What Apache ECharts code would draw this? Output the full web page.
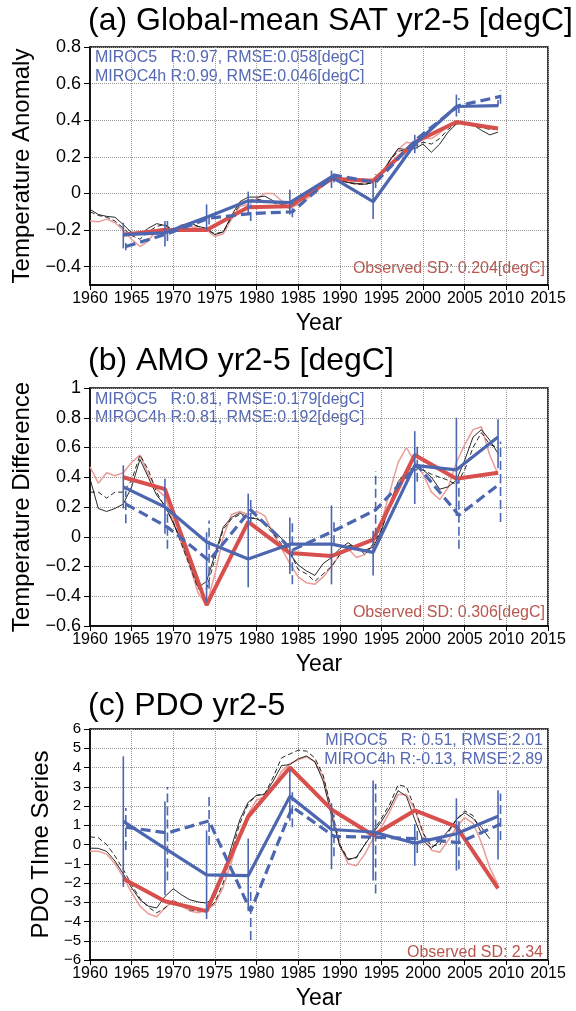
<!DOCTYPE html>
<html>
<head>
<meta charset="utf-8">
<script src="https://cdn.jsdelivr.net/npm/echarts@6/dist/echarts.min.js"></script>
<style>
html, body { margin: 0; padding: 0; background: #fff; }
#chart { width: 576px; height: 1011px; }
</style>
</head>
<body>
<div id="chart"></div>
<script>
// yearly points of the thin observed curves
var thinYears = [1960,1961,1962,1963,1964,1965,1966,1967,1968,1969,
  1970,1971,1972,1973,1974,1975,1976,1977,1978,1979,
  1980,1981,1982,1983,1984,1985,1986,1987,1988,1989,
  1990,1991,1992,1993,1994,1995,1996,1997,1998,1999,
  2000,2001,2002,2003,2004,2005,2006,2007,2008,2009];
// hindcast centres (MIROC4h drawn slightly to the right)
var hcYears = [1964,1969,1974,1979,1984,1989,1994,1999,2004,2009];
var hcYears4h = [1964.3,1969.3,1974.3,1979.3,1984.3,1989.3,1994.3,1999.3,2004.3,2009.3];

// (a) global-mean SAT
var satPink = [-0.15,-0.155,-0.14,-0.16,-0.2,-0.25,-0.29,-0.26,-0.2,-0.19,
  -0.2,-0.17,-0.18,-0.19,-0.2,-0.235,-0.22,-0.14,-0.07,-0.06,
  -0.03,0.0,0.0,-0.04,-0.08,-0.06,-0.03,0.0,0.05,0.08,
  0.08,0.06,0.05,0.06,0.07,0.11,0.18,0.24,0.28,0.27,
  0.3,0.3,0.33,0.37,0.39,0.385,0.37,0.36,0.36,0.355];
var satBlack = [-0.087,-0.115,-0.125,-0.13,-0.17,-0.215,-0.225,-0.19,-0.165,-0.175,
  -0.2,-0.175,-0.16,-0.18,-0.19,-0.225,-0.21,-0.12,-0.045,-0.02,
  -0.02,-0.015,-0.04,-0.06,-0.07,-0.04,-0.005,0.015,0.05,0.08,
  0.07,0.06,0.055,0.05,0.06,0.105,0.18,0.245,0.24,0.245,
  0.27,0.225,0.27,0.335,0.38,0.385,0.375,0.345,0.32,0.335];
var satDash = [-0.1,-0.12,-0.13,-0.15,-0.19,-0.23,-0.25,-0.21,-0.18,-0.17,
  -0.2,-0.18,-0.17,-0.18,-0.2,-0.22,-0.21,-0.13,-0.06,-0.04,
  -0.03,-0.04,-0.05,-0.07,-0.08,-0.05,-0.02,0.01,0.05,0.07,
  0.07,0.06,0.05,0.05,0.06,0.1,0.18,0.23,0.24,0.26,
  0.28,0.27,0.3,0.35,0.38,0.38,0.37,0.36,0.35,0.35];
var satObs = [-0.225,-0.2,-0.2,-0.075,-0.07,0.08,0.07,0.28,0.39,0.355];
var satM5 = [-0.225,-0.215,-0.13,-0.04,-0.05,0.09,-0.045,0.27,0.475,0.48];
var satM5Lo = [-0.3,-0.29,-0.2,-0.115,-0.115,0.03,-0.14,0.22,0.42,0.475];
var satM5Hi = [-0.16,-0.15,-0.06,0.01,0.02,0.125,0.06,0.32,0.54,0.51];
var satM4 = [-0.29,-0.22,-0.135,-0.11,-0.1,0.1,0.06,0.3,0.48,0.53];
var satM4Lo = [-0.31,-0.26,-0.17,-0.15,-0.13,0.06,0.03,0.245,0.44,0.49];
var satM4Hi = [-0.27,-0.15,-0.1,-0.06,-0.04,0.115,0.105,0.31,0.52,0.565];
var satTicks = [-0.4,-0.2,0,0.2,0.4,0.6,0.8];

// (b) AMO
var amoPink = [0.47,0.36,0.43,0.41,0.43,0.5,0.55,0.42,0.32,0.27,
  0.1,-0.05,-0.2,-0.38,-0.46,-0.25,0.0,0.15,0.17,0.15,
  0.17,0.14,0.02,-0.08,-0.18,-0.27,-0.31,-0.32,-0.27,-0.2,
  -0.12,-0.08,-0.14,-0.12,-0.05,0.1,0.3,0.5,0.6,0.5,
  0.42,0.3,0.25,0.33,0.5,0.62,0.72,0.74,0.55,0.42];
var amoBlack = [0.39,0.19,0.17,0.19,0.22,0.335,0.52,0.4,0.28,0.21,
  0.09,-0.025,-0.18,-0.34,-0.3,-0.12,0.065,0.13,0.16,0.13,
  0.12,0.09,0.04,-0.01,-0.115,-0.19,-0.23,-0.26,-0.18,-0.14,
  -0.08,-0.04,-0.08,-0.09,-0.07,0.04,0.22,0.37,0.44,0.47,
  0.45,0.4,0.32,0.335,0.38,0.515,0.67,0.72,0.65,0.56];
var amoDash = [0.3,0.3,0.26,0.3,0.3,0.38,0.55,0.45,0.3,0.2,
  0.1,-0.05,-0.2,-0.35,-0.35,-0.15,0.05,0.12,0.15,0.12,
  0.13,0.08,0.02,-0.05,-0.1,-0.22,-0.25,-0.3,-0.25,-0.2,
  -0.12,-0.06,-0.06,-0.12,-0.05,0.05,0.2,0.35,0.42,0.45,
  0.45,0.42,0.4,0.38,0.35,0.45,0.6,0.7,0.62,0.6];
var amoObs = [0.4,0.32,-0.46,0.1,-0.11,-0.13,-0.02,0.55,0.39,0.43];
var amoM5 = [0.335,0.2,-0.035,-0.15,-0.05,-0.05,-0.105,0.48,0.45,0.67];
var amoM5Lo = [0.19,0.02,-0.44,-0.34,-0.25,-0.32,-0.26,0.22,0.14,0.46];
var amoM5Hi = [0.48,0.39,0.03,0.29,0.13,0.21,0.04,0.71,0.8,0.79];
var amoM4 = [0.22,0.065,-0.16,0.18,-0.09,0.04,0.18,0.48,0.145,0.36];
var amoM4Lo = [0.09,-0.08,-0.35,0.1,-0.32,-0.05,0.0,0.37,-0.08,0.1];
var amoM4Hi = [0.31,0.2,0.11,0.26,0.1,0.1,0.44,0.62,0.38,0.64];

// (c) PDO
var pdoPink = [-0.35,-0.35,-0.5,-1.0,-1.7,-2.5,-3.2,-3.6,-3.75,-3.3,
  -2.9,-3.2,-3.45,-3.55,-3.4,-3.1,-2.2,-0.9,0.6,1.6,
  2.3,2.5,3.0,3.8,4.2,4.4,4.55,4.3,3.5,1.8,
  0.0,-1.0,-1.1,-0.5,0.3,0.9,1.7,2.6,2.6,1.8,
  0.6,-0.3,-0.4,0.2,0.9,1.4,1.1,0.1,-1.2,-2.1];
var pdoBlack = [-0.19,-0.2,-0.36,-0.86,-1.53,-2.25,-2.87,-3.2,-3.3,-2.7,
  -2.3,-2.62,-2.87,-2.99,-3.04,-2.7,-1.6,-0.1,1.3,2.2,
  2.55,2.6,3.3,4.1,4.15,4.45,4.6,4.3,3.3,1.5,
  -0.1,-0.8,-0.65,0.0,0.6,1.2,1.9,2.8,2.5,1.3,
  0.2,-0.2,0.2,0.7,1.3,1.65,1.35,0.9,0.3,null];
var pdoDash = [0.4,0.35,0.0,-0.6,-1.3,-2.1,-2.8,-3.25,-3.55,-3.3,
  -2.9,-3.15,-3.4,-3.45,-3.4,-3.0,-2.0,-0.4,1.1,2.1,
  2.55,2.65,3.5,4.5,4.7,4.9,4.85,4.5,3.6,1.8,
  0.0,-0.75,-0.7,0.0,0.7,1.35,2.1,3.1,3.0,1.9,
  0.6,-0.1,0.0,0.6,1.3,1.75,1.5,0.6,null,null];
var pdoObs = [-1.78,-2.95,-3.46,1.45,4.0,1.82,0.48,1.77,0.93,-2.28];
var pdoM5 = [1.2,-0.2,-1.58,-1.62,2.5,0.78,0.65,0.07,0.56,1.47];
var pdoM5Lo = [-2.2,-2.62,-3.87,-3.46,1.23,-1.28,-1.87,-1.11,-1.36,-0.78];
var pdoM5Hi = [4.58,2.23,0.73,0.31,3.9,2.15,3.32,1.06,2.4,2.82];
var pdoM4 = [0.9,0.6,1.23,-3.46,1.95,0.42,0.38,0.3,0.1,1.06];
var pdoM4Lo = [-0.28,-1.87,-0.03,-4.96,0.9,-0.61,-2.54,-0.44,-1.28,0.23];
var pdoM4Hi = [1.9,2.99,2.52,-2.2,2.82,1.56,3.15,0.9,1.4,2.65];

var FONT = "'Liberation Sans', Helvetica, Arial, sans-serif";
var RED = '#d8504d', PINK = '#ec9c98', BLUE = '#4d66b0', BLACK = '#111';

function pairs(xs, ys) {
  return xs.map(function (x, i) { return ys[i] == null ? null : [x, ys[i]]; }).filter(function (d) { return d; });
}

function line(g, xs, ys, color, width, dash, z) {
  return {
    type: 'line', xAxisIndex: g, yAxisIndex: g, data: pairs(xs, ys),
    symbol: 'none', silent: true, z: z,
    lineStyle: { color: color, width: width, type: dash || 'solid' }
  };
}

function errBars(g, xs, lo, hi, dashed) {
  return {
    type: 'custom', xAxisIndex: g, yAxisIndex: g, silent: true, z: 6,
    data: xs.map(function (x, i) { return [x, lo[i], hi[i]]; }),
    encode: { x: 0, y: [1, 2] },
    renderItem: function (params, api) {
      var a = api.coord([api.value(0), api.value(1)]);
      var b = api.coord([api.value(0), api.value(2)]);
      return {
        type: 'line',
        shape: { x1: a[0], y1: a[1], x2: b[0], y2: b[1] },
        style: { stroke: BLUE, lineWidth: 1.6, lineDash: dashed ? [9, 4] : null }
      };
    }
  };
}

function panelSeries(g, pink, black, dash, obs, m5, m5lo, m5hi, m4, m4lo, m4hi) {
  return [
    line(g, thinYears, pink, PINK, 1.5, null, 2),
    line(g, thinYears, dash, BLACK, 0.9, [5, 3], 3),
    line(g, thinYears, black, BLACK, 0.9, null, 3),
    line(g, hcYears, obs, RED, 4, null, 4),
    errBars(g, hcYears, m5lo, m5hi, false),
    errBars(g, hcYears4h, m4lo, m4hi, true),
    line(g, hcYears, m5, BLUE, 3.2, null, 7),
    line(g, hcYears4h, m4, BLUE, 3.2, [10, 5], 7)
  ];
}

function minus(v) { return String(v).replace('-', '\u2212'); }

var tops = [47, 388, 729];
var grids = tops.map(function (t) {
  return { left: 90, width: 458, top: t, height: 238, show: true, borderColor: '#000', borderWidth: 1.5, backgroundColor: 'transparent' };
});

var xAxes = [0, 1, 2].map(function (g) {
  return {
    gridIndex: g, type: 'value', min: 1960, max: 2015, interval: 5,
    name: 'Year', nameLocation: 'middle', nameGap: 27,
    nameTextStyle: { fontSize: 23, color: '#000', fontFamily: FONT },
    axisLine: { show: true, onZero: false, lineStyle: { color: '#000', width: 1.5 } },
    axisTick: { show: true, length: 5, lineStyle: { color: '#000' } },
    axisLabel: { fontSize: 16, color: '#000', margin: 6, fontFamily: FONT, formatter: function (v) { return String(v); } },
    splitLine: { show: true, lineStyle: { color: '#999', type: 'dotted', width: 1 } }
  };
});

function yAxis(g, min, max, interval, name, gap, fs, custom) {
  var ax = {
    gridIndex: g, type: 'value', min: min, max: max, interval: interval,
    name: name, nameLocation: 'middle', nameGap: gap,
    nameTextStyle: { fontSize: 24, color: '#000', fontFamily: FONT },
    axisLine: { show: true, onZero: false, lineStyle: { color: '#000', width: 1.5 } },
    axisTick: { show: true, length: 6, lineStyle: { color: '#000' } },
    axisLabel: { fontSize: fs, color: '#000', margin: 9, fontFamily: FONT, formatter: minus },
    splitLine: { show: true, lineStyle: { color: '#999', type: 'dotted', width: 1 } }
  };
  if (custom) {
    ax.axisTick.customValues = custom;
    ax.axisLabel.customValues = custom;
  }
  return ax;
}

var yAxes = [
  yAxis(0, -0.5, 0.8, 0.1, 'Temperature Anomaly', 50, 18, satTicks),
  yAxis(1, -0.6, 1, 0.2, 'Temperature Difference', 50, 18),
  yAxis(2, -6, 6, 1, 'PDO TIme Series', 36, 15)
];

function txt(x, y, s, size, color, align) {
  return {
    type: 'text', x: x, y: y, silent: true,
    style: { text: s, fill: color, font: size + 'px ' + FONT, align: align || 'left', verticalAlign: 'middle' }
  };
}

var TXTBLUE = '#5468b4', TXTRED = '#b9564d';
var graphics = [
  txt(88, 21, '(a) Global-mean SAT yr2-5 [degC]', 32, '#000'),
  txt(95, 58, 'MIROC5   R:0.97, RMSE:0.058[degC]', 16, TXTBLUE),
  txt(95, 77, 'MIROC4h R:0.99, RMSE:0.046[degC]', 16, TXTBLUE),
  txt(545, 269, 'Observed SD: 0.204[degC]', 16, TXTRED, 'right'),
  txt(88, 361, '(b) AMO yr2-5 [degC]', 32, '#000'),
  txt(95, 400, 'MIROC5   R:0.81, RMSE:0.179[degC]', 16, TXTBLUE),
  txt(95, 418, 'MIROC4h R:0.81, RMSE:0.192[degC]', 16, TXTBLUE),
  txt(545, 613, 'Observed SD: 0.306[degC]', 16, TXTRED, 'right'),
  txt(88, 706, '(c) PDO yr2-5', 32, '#000'),
  txt(543, 741, 'MIROC5   R: 0.51, RMSE:2.01', 16, TXTBLUE, 'right'),
  txt(543, 760, 'MIROC4h R:-0.13, RMSE:2.89', 16, TXTBLUE, 'right'),
  txt(543, 953, 'Observed SD: 2.34', 16, TXTRED, 'right')
];

var series = [].concat(
  panelSeries(0, satPink, satBlack, satDash, satObs, satM5, satM5Lo, satM5Hi, satM4, satM4Lo, satM4Hi),
  panelSeries(1, amoPink, amoBlack, amoDash, amoObs, amoM5, amoM5Lo, amoM5Hi, amoM4, amoM4Lo, amoM4Hi),
  panelSeries(2, pdoPink, pdoBlack, pdoDash, pdoObs, pdoM5, pdoM5Lo, pdoM5Hi, pdoM4, pdoM4Lo, pdoM4Hi)
);

var myChart = echarts.init(document.getElementById('chart'));
myChart.setOption({
  animation: false,
  backgroundColor: '#fff',
  textStyle: { fontFamily: FONT },
  grid: grids,
  xAxis: xAxes,
  yAxis: yAxes,
  graphic: graphics,
  series: series
});
</script>
</body>
</html>
